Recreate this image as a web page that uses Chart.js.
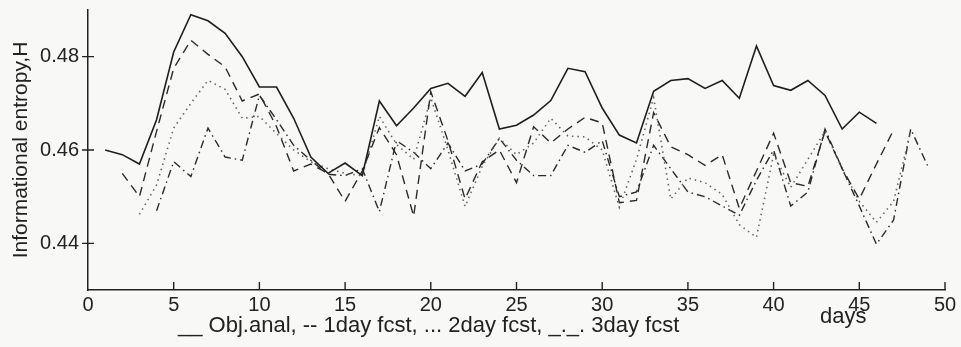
<!DOCTYPE html>
<html>
<head>
<meta charset="utf-8">
<script src="https://cdn.jsdelivr.net/npm/chart.js@4.4.1/dist/chart.umd.min.js"></script>
<style>
  html, body { margin: 0; padding: 0; background: #f8f8f6; }
  #wrap { position: relative; width: 961px; height: 347px; }
</style>
</head>
<body>
<div id="wrap"><canvas id="mycanvas" width="961" height="347"></canvas></div>
<script>
// day numbers where each series starts (one value per day after that)
var startDays = [1, 2, 3, 4];

// objective analysis (solid)
var objAnal = [0.4600, 0.4590, 0.4570, 0.4665, 0.4810, 0.4890, 0.4877, 0.4850, 0.4800, 0.4735,
	0.4735, 0.4668, 0.4585, 0.4550, 0.4572, 0.4545, 0.4705, 0.4652, 0.4690, 0.4732,
	0.4743, 0.4715, 0.4766, 0.4645, 0.4653, 0.4675, 0.4706, 0.4775, 0.4768, 0.4690,
	0.4632, 0.4615, 0.4726, 0.4749, 0.4753, 0.4732, 0.4749, 0.4711, 0.4823, 0.4738,
	0.4728, 0.4749, 0.4717, 0.4645, 0.4681, 0.4657];

// 1 day forecast (dashed), from day 2
var fcst1 = [0.4550, 0.4500, 0.4640, 0.4775, 0.4835, 0.4805, 0.4778, 0.4705, 0.4720, 0.4650,
	0.4555, 0.4570, 0.4550, 0.4490, 0.4555, 0.4648, 0.4590, 0.4458, 0.4725, 0.4620,
	0.4495, 0.4575, 0.4600, 0.4530, 0.4650, 0.4615, 0.4645, 0.4670, 0.4658, 0.4487,
	0.4492, 0.4680, 0.4607, 0.4590, 0.4567, 0.4590, 0.4475, 0.4555, 0.4636, 0.4530,
	0.4522, 0.4640, 0.4560, 0.4495, 0.4570, 0.4643];

// 2 day forecast (dotted), from day 3
var fcst2 = [0.4462, 0.4525, 0.4647, 0.4700, 0.4749, 0.4730, 0.4668, 0.4672, 0.4635, 0.4600,
	0.4575, 0.4560, 0.4550, 0.4545, 0.4672, 0.4612, 0.4580, 0.4712, 0.4600, 0.4479,
	0.4565, 0.4625, 0.4590, 0.4615, 0.4668, 0.4630, 0.4628, 0.4600, 0.4477, 0.4580,
	0.4712, 0.4495, 0.4540, 0.4530, 0.4505, 0.4440, 0.4413, 0.4590, 0.4520, 0.4580,
	0.4640, 0.4560, 0.4490, 0.4445, 0.4490, 0.4640];

// 3 day forecast (dash-dot), from day 4
var fcst3 = [0.4470, 0.4575, 0.4543, 0.4647, 0.4585, 0.4578, 0.4717, 0.4665, 0.4610, 0.4578,
	0.4548, 0.4545, 0.4560, 0.4468, 0.4620, 0.4595, 0.4560, 0.4615, 0.4555, 0.4570,
	0.4625, 0.4578, 0.4545, 0.4545, 0.4610, 0.4595, 0.4620, 0.4500, 0.4510, 0.4610,
	0.4560, 0.4510, 0.4500, 0.4480, 0.4460, 0.4535, 0.4600, 0.4480, 0.4510, 0.4645,
	0.4560, 0.4480, 0.4398, 0.4450, 0.4645, 0.4565];

var yTicks = [0.44, 0.46, 0.48];
var xTicks = [0, 5, 10, 15, 20, 25, 30, 35, 40, 45, 50];
var legendNote = "__ Obj.anal, -- 1day fcst, ... 2day fcst, _._. 3day fcst";
var xUnit = "days";

function toPoints(vals, first) {
	var pts = [];
	for (var i in vals) {
		pts.push({x: first + Number(i), y: vals[i]});
	}
	return pts;
}

var ink = "#222";
var font = "'Liberation Sans', Arial, sans-serif";

// inward ticks and the text under the axis
var extras = {
	id: 'extras',
	afterDraw: function(chart) {
		var ctx = chart.ctx;
		var xs = chart.scales.x, ys = chart.scales.y;
		var a = chart.chartArea;
		ctx.save();
		ctx.strokeStyle = ink;
		ctx.lineWidth = 1.4;
		ctx.beginPath();
		xTicks.forEach(function(t) {
			if (t === 0) return;
			var px = xs.getPixelForValue(t);
			ctx.moveTo(px, a.bottom);
			ctx.lineTo(px, a.bottom - 8);
		});
		yTicks.forEach(function(t) {
			var py = ys.getPixelForValue(t);
			ctx.moveTo(a.left - 6, py);
			ctx.lineTo(a.left + 6, py);
		});
		ctx.stroke();
		ctx.fillStyle = ink;
		ctx.font = "22px " + font;
		ctx.textBaseline = "middle";
		ctx.textAlign = "left";
		ctx.fillText(legendNote, 178, 326);
		ctx.fillText(xUnit, 820, 317);
		ctx.restore();
	}
};

var ctx = document.getElementById("mycanvas");

var chartdata = {
	datasets: [
		{
			label: "Obj.anal",
			data: toPoints(objAnal, startDays[0]),
			borderColor: "#1e1e1e",
			borderWidth: 1.6
		},
		{
			label: "1day fcst",
			data: toPoints(fcst1, startDays[1]),
			borderColor: "#2a2a2a",
			borderWidth: 1.4,
			borderDash: [9, 6]
		},
		{
			label: "2day fcst",
			data: toPoints(fcst2, startDays[2]),
			borderColor: "#666",
			borderWidth: 1.6,
			borderDash: [1.5, 4]
		},
		{
			label: "3day fcst",
			data: toPoints(fcst3, startDays[3]),
			borderColor: "#2a2a2a",
			borderWidth: 1.4,
			borderDash: [8, 4, 1.5, 4]
		}
	]
};

var LineGraph = new Chart(ctx, {
	type: 'line',
	data: chartdata,
	plugins: [extras],
	options: {
		responsive: false,
		animation: false,
		layout: { padding: { left: 0, right: 16, top: 10, bottom: 0 } },
		elements: {
			line: { tension: 0, fill: false },
			point: { radius: 0 }
		},
		plugins: {
			legend: { display: false },
			tooltip: { enabled: false }
		},
		scales: {
			x: {
				type: 'linear',
				min: 0,
				max: 50,
				afterFit: function(s) {
					s.height = 57;
					s.paddingLeft = 0;
					s.paddingRight = 0;
				},
				afterBuildTicks: function(s) {
					s.ticks = xTicks.map(function(v) { return {value: v}; });
				},
				grid: { display: false, drawTicks: false },
				border: { display: true, color: ink, width: 1.5 },
				ticks: {
					padding: 3,
					color: ink,
					font: { family: font, size: 20 },
					maxRotation: 0,
					autoSkip: false
				}
			},
			y: {
				min: 0.43,
				max: 0.49,
				afterFit: function(s) {
					s.width = 88;
					s.paddingTop = 0;
					s.paddingBottom = 0;
				},
				afterBuildTicks: function(s) {
					s.ticks = yTicks.map(function(v) { return {value: v}; });
				},
				grid: { display: false, drawTicks: false },
				border: { display: true, color: ink, width: 1.5 },
				ticks: {
					padding: 9,
					color: ink,
					font: { family: font, size: 20 },
					callback: function(v) { return v.toFixed(2); }
				},
				title: {
					display: true,
					text: "Informational entropy,H",
					color: ink,
					font: { family: font, size: 21 },
					padding: { top: 9, bottom: 0 }
				}
			}
		}
	}
});
</script>
</body>
</html>
